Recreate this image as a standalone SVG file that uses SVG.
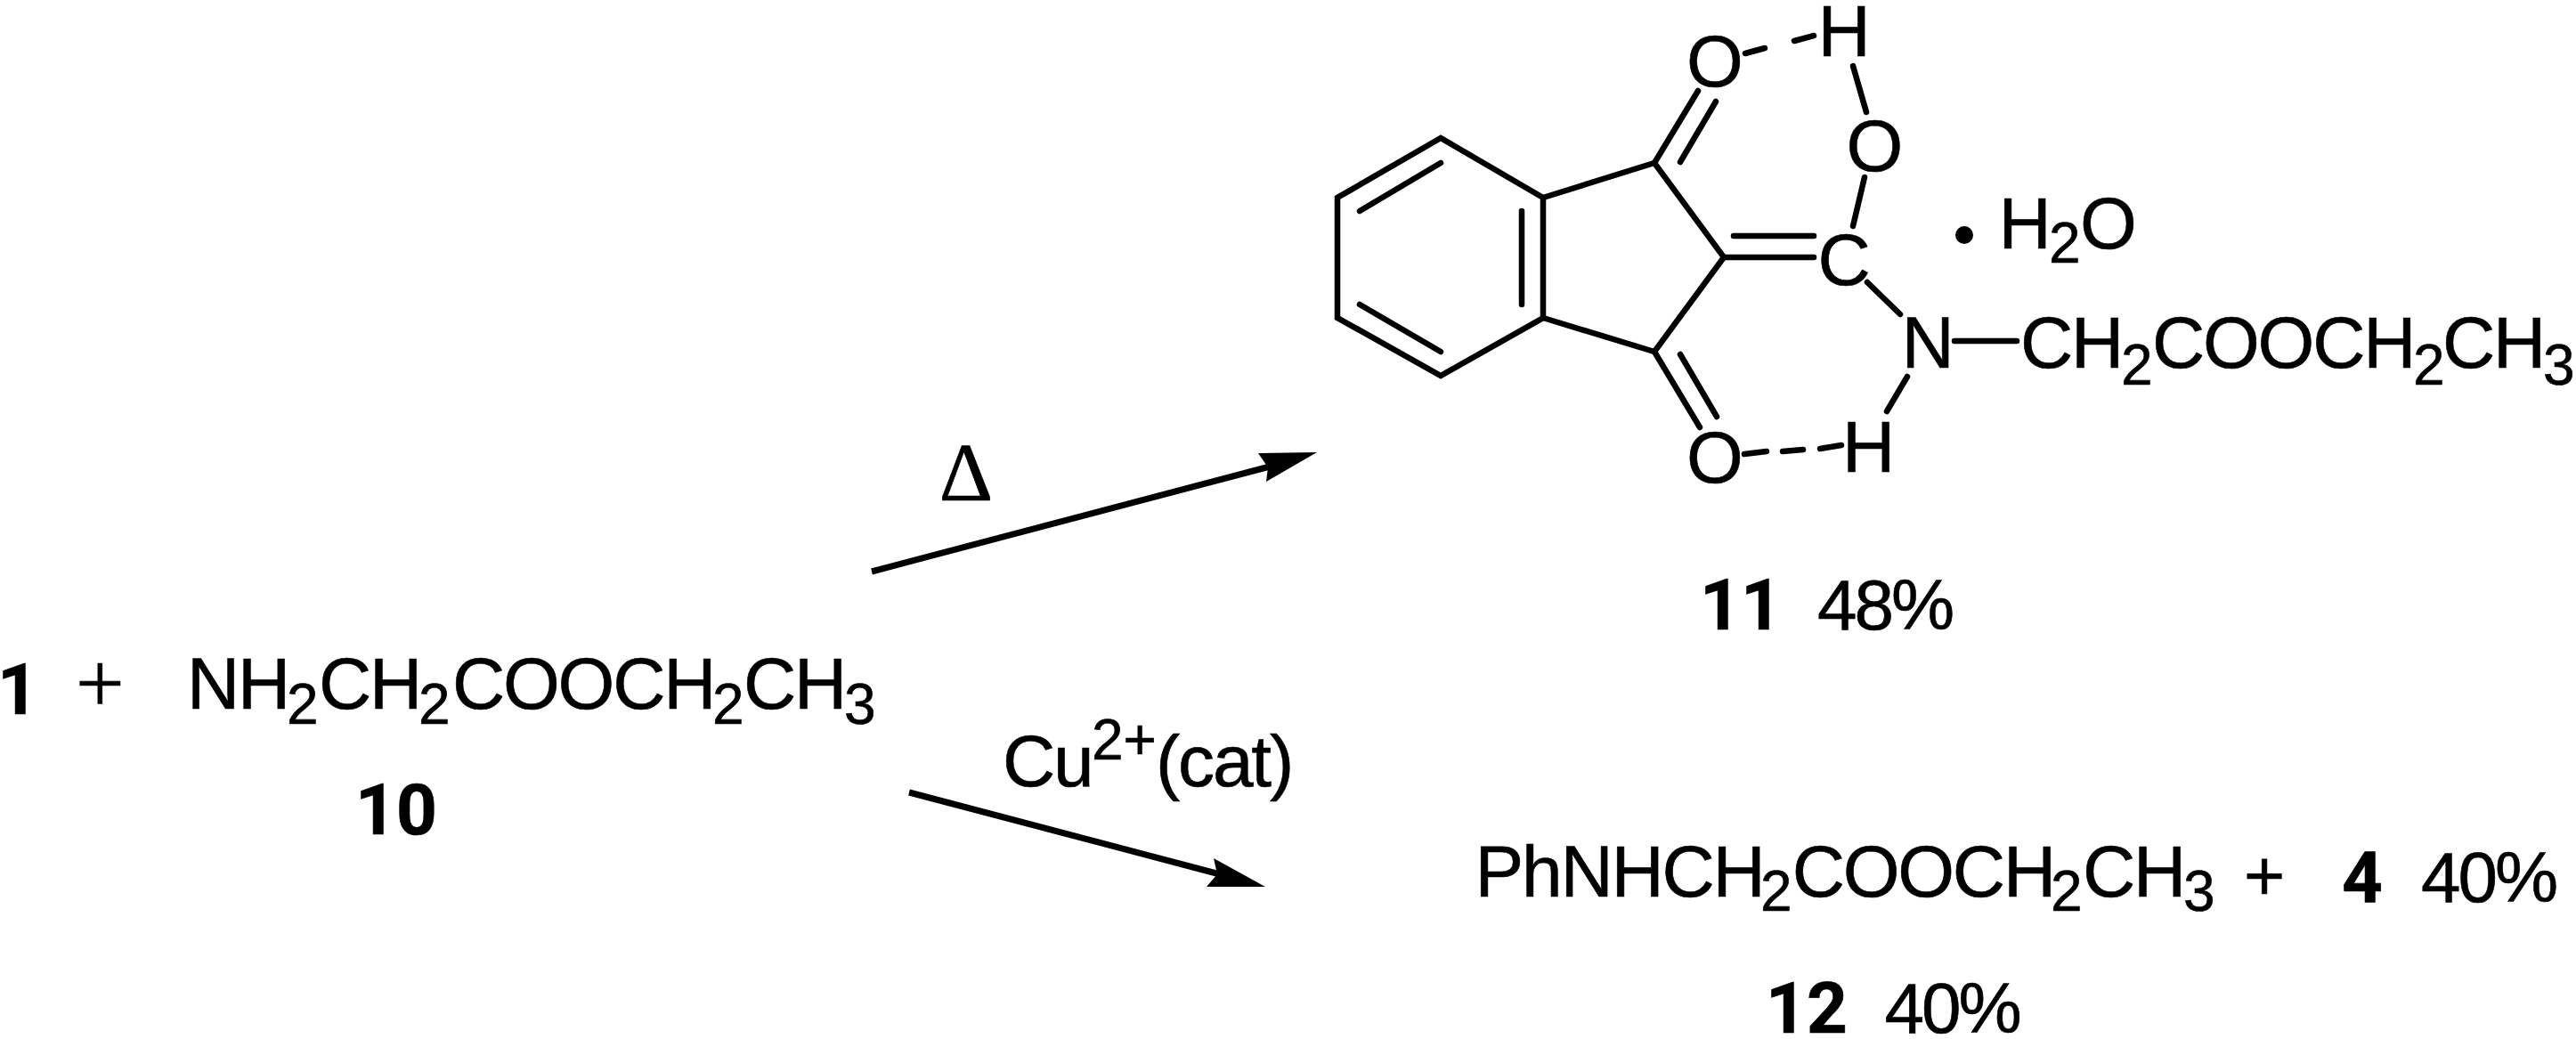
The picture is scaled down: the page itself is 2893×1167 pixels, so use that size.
<svg xmlns="http://www.w3.org/2000/svg" width="2893" height="1167" viewBox="0 0 2893 1167">
<style>
text{font-family:"Liberation Sans",Arial,sans-serif;font-size:82px;fill:#000;stroke:#000;stroke-width:.6px}
.c{letter-spacing:-2.2px}
.b{font-family:Roboto,"Liberation Sans",sans-serif;font-weight:bold;font-size:80px;letter-spacing:0}
.s{font-size:64px;letter-spacing:0}
.p{font-size:80px;letter-spacing:-3px}
.m{text-anchor:middle}
.bond{stroke:#000;stroke-width:6.5;fill:none;stroke-linecap:round;stroke-linejoin:miter}
.arrow{stroke:#000;stroke-width:7;fill:none}
.head{fill:#000;stroke:none}
</style>
<rect width="2893" height="1167" fill="#fff"/>
<g id="connectors">
<line class="arrow" x1="979" y1="642" x2="1426" y2="524"/>
<polygon class="head" points="1479,508 1413,509 1424,525 1422,541"/>
<line class="arrow" x1="1021" y1="890" x2="1370" y2="982"/>
<polygon class="head" points="1421,996 1363,964 1367,982 1355,996"/>
</g>
<g id="compound-11">
<path class="bond" d="M1618 155L1502 222V357L1618 422L1733 357V222ZM1527 237L1618 183M1527 342L1618 395M1709 237V342"/>
<path class="bond" d="M1733 222L1858 183L1936 289L1858 395L1733 357"/>
<path class="bond" d="M1858 183L1907 102M1887 182L1927 114M1858 395L1909 480M1887 398L1928 468"/>
<path class="bond" d="M1936 289H2037M1947 265H2037"/>
<path class="bond" d="M1960 60L1982 54M2015 46L2037 40"/>
<path class="bond" d="M2081 74L2096 126M2094 199L2081 254M2097 317L2134 353M2195 383H2265M2142 423L2119 462"/>
<path class="bond" d="M1959 510L1984 507M2002 507L2025 505M2044 504L2068 500"/>
<circle cx="2206" cy="264" r="10" fill="#000"/>
<text class="m" x="1926" y="97">O</text>
<text class="m" x="2071" y="62.5">H</text>
<text class="m" x="2105.5" y="192">O</text>
<text class="m" x="2071" y="320">C</text>
<text class="m" x="2165" y="413">N</text>
<text class="m" x="2098.5" y="529.5">H</text>
<text class="m" x="1926" y="542">O</text>
<text y="279"><tspan x="2244.5">H</tspan><tspan class="s" x="2301" y="295">2</tspan><tspan x="2336" y="279">O</tspan></text>
<text class="c" y="413"><tspan x="2269">CH</tspan><tspan class="s" x="2382" y="432">2</tspan><tspan x="2417" y="413">COOCH</tspan><tspan class="s" x="2710" y="432">2</tspan><tspan x="2743" y="413">CH</tspan><tspan class="s" x="2856" y="432">3</tspan></text>
<text y="707"><tspan class="b" x="1909">11</tspan><tspan class="p" x="2041">48%</tspan></text>
</g>
<g id="reactants">
<text class="b" x="-3" y="802">1</text>
<text x="85" y="800" style="font-family:'Liberation Serif',serif;font-size:97px">+</text>
<text class="c" y="796"><tspan x="210">NH</tspan><tspan class="s" x="322" y="813">2</tspan><tspan x="358" y="796">CH</tspan><tspan class="s" x="470" y="813">2</tspan><tspan x="508" y="796">COOCH</tspan><tspan class="s" x="800" y="813">2</tspan><tspan x="835" y="796">CH</tspan><tspan class="s" x="948" y="813">3</tspan></text>
<text class="b" x="399" y="937">10</text>
</g>
<g id="conditions">
<text class="m" x="1085" y="562" style="font-family:'Liberation Serif',serif;font-size:94px">Δ</text>
<text class="c" y="883"><tspan x="1126">Cu</tspan><tspan class="s" x="1226" y="853">2+</tspan><tspan x="1298" y="883">(cat)</tspan></text>
</g>
<g id="compound-12">
<text class="c" y="1006.7"><tspan x="1656.5">PhNHCH</tspan><tspan class="s" x="1977" y="1023">2</tspan><tspan x="2012.7" y="1006.7">COOCH</tspan><tspan class="s" x="2303" y="1023">2</tspan><tspan x="2339" y="1006.7">CH</tspan><tspan class="s" x="2452" y="1023">3</tspan></text>
<text x="2520" y="1011" style="font-size:79px">+</text>
<text class="b" x="2630" y="1013">4</text>
<text class="p" x="2719" y="1013">40%</text>
<text y="1160"><tspan class="b" x="1983">12</tspan><tspan class="p" x="2116.5">40%</tspan></text>
</g>
</svg>
